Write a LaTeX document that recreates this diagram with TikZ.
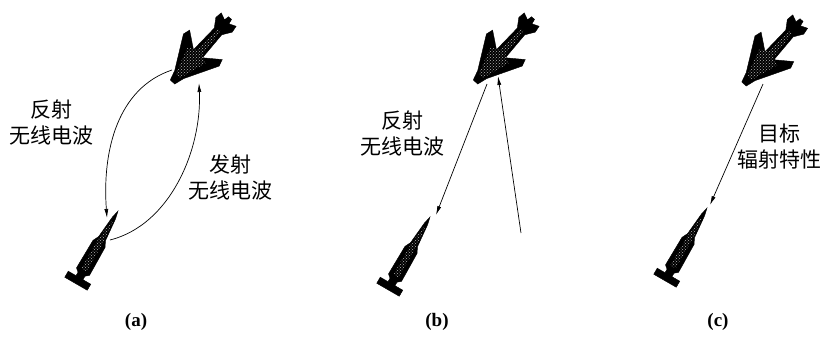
\documentclass[tikz,border=0pt]{standalone}
\usepackage{fontspec}
\setmainfont{Liberation Serif}
\newfontfamily\cjk{Noto Sans CJK SC}
\usetikzlibrary{arrows.meta,patterns}

% jet seen from above, nose at (#1,#2)
\def\aircraft(#1,#2){
	\begin{scope}[shift={(#1,#2)},rotate=228]
		\draw[fill=black] (0,-3) -- (-10,-6) -- (-43,-24) -- (-50,-22) -- (-38,-6) -- (-68,-5)
			-- (-77,-11) -- (-84,-10) -- (-81,-3) -- (-86,-2) -- (-86,2) -- (-81,3) -- (-84,10)
			-- (-77,11) -- (-68,5) -- (-38,6) -- (-50,22) -- (-43,24) -- (-10,6) -- (0,3) -- cycle;
		\fill[pattern=crosshatch dots, pattern color=gray!60] (-8,-3) -- (-36,-12) -- (-40,-4) -- (-70,-2)
			-- (-70,2) -- (-40,4) -- (-36,12) -- (-8,3) -- cycle;
	\end{scope}}

% missile, tip at (#1,#2)
\def\missile(#1,#2){
	\begin{scope}[shift={(#1,#2)},rotate=60]
		\draw[fill=black] (0,0) -- (-8,-1.8) -- (-32,-4) -- (-38,-7) -- (-70,-7.5) -- (-73,-4)
			-- (-77,-4) -- (-77,-13) -- (-84,-13) -- (-84,13) -- (-77,13) -- (-77,4) -- (-73,4)
			-- (-70,7.5) -- (-38,7) -- (-32,4) -- (-8,1.8) -- cycle;
		\fill[pattern=crosshatch dots, pattern color=gray!60] (-12,-1) -- (-36,-3) -- (-68,-3)
			-- (-68,3) -- (-36,3) -- (-12,1) -- cycle;
	\end{scope}}

\tikzset{
	wave/.style={-{Latex[length=9pt,width=4pt]}, line width=0.7pt},
	label/.style={align=center, font=\cjk\fontsize{21pt}{26pt}\selectfont, inner sep=0pt},
	caption/.style={font=\bfseries\fontsize{19pt}{22pt}\selectfont, inner sep=0pt}
}

\begin{document}
\begin{tikzpicture}[x=1pt,y=-1pt]
	\useasboundingbox (0,0) rectangle (822,338);

	% (a) active
	\aircraft(172.5,82)
	\missile(118,211)
	\coordinate (a-tgt-out) at (172,70);
	\coordinate (a-msl-in) at (107,218);
	\coordinate (a-msl-out) at (110,240);
	\coordinate (a-tgt-in) at (199,83);
	\draw[wave] (a-tgt-out) .. controls (118,88) and (102,150) .. (a-msl-in);
	\draw[wave] (a-msl-out) .. controls (170,225) and (202,150) .. (a-tgt-in);
	\node[label] (a-refl) at (51.5,123) {反射\\无线电波};
	\node[label] (a-emit) at (230.5,177) {发射\\无线电波};
	\node[caption] (a-cap) at (136,322) {(a)};

	% (b) semi-active
	\aircraft(475.5,82)
	\missile(430,217)
	\coordinate (b-tgt-out) at (487,84);
	\coordinate (b-msl-in) at (436,215);
	\coordinate (b-ext) at (521,233);
	\coordinate (b-tgt-in) at (498,76);
	\draw[wave] (b-tgt-out) -- (b-msl-in);
	\draw[wave] (b-ext) -- (b-tgt-in);
	\node[label] (b-refl) at (402,134) {反射\\无线电波};
	\node[caption] (b-cap) at (437,322) {(b)};

	% (c) passive
	\aircraft(744,84)
	\missile(707,208)
	\coordinate (c-tgt-out) at (763,84);
	\coordinate (c-msl-in) at (710,205);
	\draw[wave] (c-tgt-out) -- (c-msl-in);
	\node[label] (c-rad) at (779,147) {目标\\辐射特性};
	\node[caption] (c-cap) at (718,322) {(c)};
\end{tikzpicture}
\end{document}
